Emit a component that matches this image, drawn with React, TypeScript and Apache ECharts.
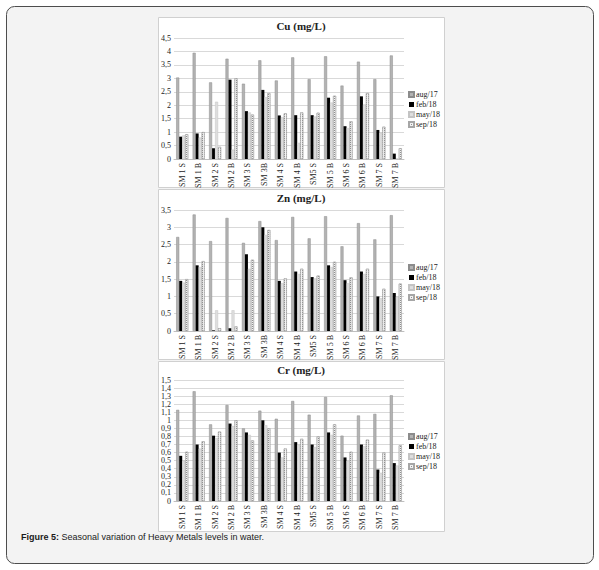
import React, { useEffect, useRef } from "react";
import * as echarts from "echarts";

const categories = ["SM 1 S", "SM 1 B", "SM 2 S", "SM 2 B", "SM 3 S", "SM 3B", "SM 4 S", "SM 4 B", "SM5 S", "SM 5 B", "SM 6 S", "SM 6 B", "SM 7 S", "SM 7 B"];
const seriesNames = ["aug/17", "feb/18", "may/18", "sep/18"];

const cuAug = [3.03, 3.95, 2.85, 3.73, 2.8, 3.67, 2.92, 3.78, 2.97, 3.82, 2.73, 3.62, 2.97, 3.85];
const cuFeb = [0.83, 0.95, 0.4, 2.95, 1.78, 2.57, 1.62, 1.63, 1.63, 2.28, 1.22, 2.33, 1.08, 0.2];
const cuMay = [0.88, 0.8, 2.13, 0.35, 1.73, 2.3, 1.55, 0.6, 1.58, 2.1, 1.15, 2.03, 0.98, 0.02];
const cuSep = [0.92, 1.0, 0.45, 3.0, 1.65, 2.45, 1.7, 1.73, 1.72, 2.35, 1.4, 2.45, 1.2, 0.4];

const znAug = [2.72, 3.37, 2.6, 3.27, 2.55, 3.18, 2.63, 3.3, 2.68, 3.32, 2.45, 3.12, 2.65, 3.35];
const znFeb = [1.45, 1.9, 0.02, 0.08, 2.22, 3.0, 1.45, 1.72, 1.56, 1.9, 1.47, 1.72, 1.0, 1.1];
const znMay = [1.4, 1.85, 0.6, 0.6, 1.8, 2.78, 1.38, 1.65, 1.52, 1.85, 1.38, 1.65, 0.95, 1.0];
const znSep = [1.5, 2.02, 0.08, 0.13, 2.06, 2.92, 1.52, 1.8, 1.6, 2.0, 1.55, 1.8, 1.22, 1.37];

const crAug = [1.13, 1.36, 0.95, 1.19, 0.9, 1.12, 1.02, 1.24, 1.07, 1.29, 0.81, 1.06, 1.08, 1.31];
const crFeb = [0.56, 0.7, 0.81, 0.96, 0.85, 1.0, 0.6, 0.73, 0.7, 0.85, 0.54, 0.7, 0.39, 0.47];
const crMay = [0.5, 0.65, 0.78, 0.93, 0.82, 0.94, 0.54, 0.7, 0.67, 0.82, 0.5, 0.68, 0.35, 0.44];
const crSep = [0.61, 0.74, 0.86, 1.0, 0.75, 0.9, 0.65, 0.77, 0.8, 0.95, 0.61, 0.76, 0.6, 0.69];

const titles = ["Cu (mg/L)", "Zn (mg/L)", "Cr (mg/L)"];
const yMax = [4.5, 3.5, 1.5];
const yInterval = [0.5, 0.5, 0.1];
const chartData = [
  [cuAug, cuFeb, cuMay, cuSep],
  [znAug, znFeb, znMay, znSep],
  [crAug, crFeb, crMay, crSep],
];

const SERIF = "'Liberation Serif', 'DejaVu Serif', serif";
const SANS = "'Liberation Sans', Arial, sans-serif";

const panelTops = [17, 189, 361];
const gridTops = [38, 210, 380];
const titleY = [26, 198, 370];
const legendTops = [90, 263, 432];

const styles: any[] = [
  { color: "#b3b3b3", borderColor: "#8c8c8c", borderWidth: 0.5 },
  { color: "#000000" },
  { color: "#dedede", borderColor: "#c4c4c4", borderWidth: 0.5 },
  {
    color: "#f2f2f2",
    borderColor: "#a6a6a6",
    borderWidth: 0.5,
    decal: {
      symbol: "rect",
      symbolSize: 1,
      color: "rgba(110,110,110,0.75)",
      dashArrayX: [1, 1],
      dashArrayY: [1, 1],
      rotation: 0,
    },
  },
];

export default function App() {
  const ref = useRef<HTMLDivElement>(null);
  useEffect(() => {
    if (!ref.current) return;
    const chart = echarts.init(ref.current, null, { renderer: "svg" });
    const grids: any[] = [];
    const xAxes: any[] = [];
    const yAxes: any[] = [];
    const series: any[] = [];
    const titleArr: any[] = [];
    const legends: any[] = [];
    for (let i = 0; i < 3; i++) {
      grids.push({ left: 174, width: 230, top: gridTops[i], height: 121 });
      xAxes.push({
        type: "category",
        gridIndex: i,
        data: categories,
        axisLine: { lineStyle: { color: "#bfbfbf", width: 1 } },
        axisTick: { show: false },
        axisLabel: {
          rotate: 90,
          interval: 0,
          fontFamily: SERIF,
          fontSize: 8,
          color: "#222",
          margin: 4,
        },
      });
      yAxes.push({
        type: "value",
        gridIndex: i,
        min: 0,
        max: yMax[i],
        interval: yInterval[i],
        axisLine: { show: false },
        axisTick: { show: false },
        splitLine: { lineStyle: { color: "#d9d9d9", width: 1 } },
        axisLabel: {
          fontFamily: SERIF,
          fontSize: 8,
          color: "#222",
          margin: 3,
          formatter: (v: number) => String(+v.toFixed(2)).replace(".", ","),
        },
      });
      for (let s = 0; s < 4; s++) {
        series.push({
          type: "bar",
          name: seriesNames[s],
          xAxisIndex: i,
          yAxisIndex: i,
          data: chartData[i][s],
          barWidth: 3,
          barGap: "0%",
          itemStyle: styles[s],
        });
      }
      titleArr.push({
        text: titles[i],
        left: 301,
        top: titleY[i],
        textAlign: "center",
        textVerticalAlign: "middle",
        textStyle: { fontFamily: SERIF, fontSize: 11, fontWeight: "bold", color: "#222" },
        padding: 0,
      });
      legends.push({
        data: seriesNames,
        orient: "vertical",
        left: 408,
        top: legendTops[i],
        itemWidth: 5,
        itemHeight: 5,
        itemGap: 1,
        padding: 0,
        icon: "rect",
        textStyle: { fontFamily: SERIF, fontSize: 8, color: "#222", padding: [0, 0, 0, -3], lineHeight: 9 },
      });
    }
    const graphic: any[] = [
      {
        type: "rect",
        z: -10,
        shape: { x: 6.5, y: 6.5, width: 587, height: 557, r: 8 },
        style: { fill: "#f3f3f3", stroke: "#4d4d4d", lineWidth: 1 },
      },
    ];
    for (let i = 0; i < 3; i++) {
      graphic.push({
        type: "rect",
        z: -9,
        shape: { x: 158.5, y: panelTops[i] + 0.5, width: 286, height: 170 },
        style: { fill: "#ffffff", stroke: "#d0d0d0", lineWidth: 1 },
      });
    }
    graphic.push({
      type: "text",
      z: 5,
      x: 21,
      y: 537,
      style: {
        text: "{b|Figure 5:} Seasonal variation of Heavy Metals levels in water.",
        font: "9px " + SANS,
        fill: "#1a1a1a",
        verticalAlign: "middle",
        rich: { b: { fontWeight: "bold", fontFamily: SANS, fontSize: 9, fill: "#1a1a1a" } },
      },
    });
    chart.setOption({
      animation: false,
      title: titleArr,
      legend: legends,
      grid: grids,
      xAxis: xAxes,
      yAxis: yAxes,
      series,
      graphic,
    });
    return () => chart.dispose();
  }, []);
  return (
    <div
      ref={ref}
      style={{ position: "fixed", left: 0, top: 0, width: 599, height: 570, background: "#ffffff" }}
    />
  );
}
